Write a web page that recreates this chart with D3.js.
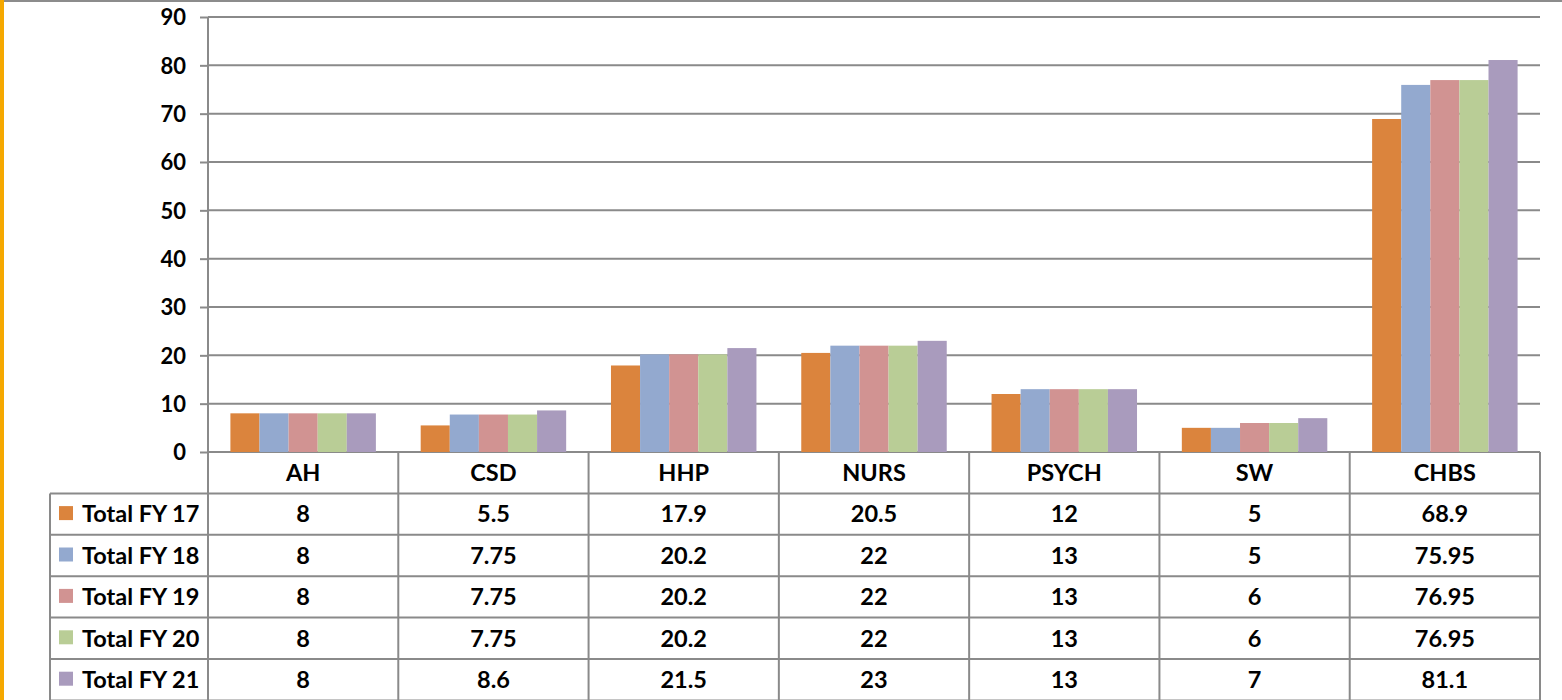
<!DOCTYPE html>
<html>
<head>
<meta charset="utf-8">
<script src="https://cdn.jsdelivr.net/npm/d3@7"></script>
<style>
  body { margin: 0; background: #fff; }
  text { font-family: Lato, "Open Sans", sans-serif; font-weight: bold; fill: #000; }
</style>
</head>
<body>
<div id="chart"></div>
<script>
const width = 1562;
const height = 700;

const categories = ["AH", "CSD", "HHP", "NURS", "PSYCH", "SW", "CHBS"];
const seriesNames = ["Total FY 17", "Total FY 18", "Total FY 19", "Total FY 20", "Total FY 21"];
const fy17 = [8, 5.5, 17.9, 20.5, 12, 5, 68.9];
const fy18 = [8, 7.75, 20.2, 22, 13, 5, 75.95];
const fy19 = [8, 7.75, 20.2, 22, 13, 6, 76.95];
const fy20 = [8, 7.75, 20.2, 22, 13, 6, 76.95];
const fy21 = [8, 8.6, 21.5, 23, 13, 7, 81.1];
const colors = ["#DB843D", "#93A9CF", "#D19392", "#B9CD96", "#A99BBD"];
const yTicks = [0, 10, 20, 30, 40, 50, 60, 70, 80, 90];

const series = [fy17, fy18, fy19, fy20, fy21];

const plotLeft = 208;
const plotRight = 1540;
const plotTop = 17;
const plotBottom = 452;
const rowH = 41.4;
const tableLeft = 50;
const gridColor = "#8a8a8a";
const tableFont = "23.5px";

const x = d3.scaleBand()
    .domain(categories)
    .range([plotLeft, plotRight])
    .paddingInner(0)
    .paddingOuter(0);
const xInner = d3.scaleBand()
    .domain(d3.range(series.length))
    .range([0, x.bandwidth()])
    .paddingOuter(0.77)
    .paddingInner(0);
const y = d3.scaleLinear()
    .domain([0, 90])
    .range([plotBottom, plotTop]);

const svg = d3.select("#chart")
    .append("svg")
        .attr("width", width)
        .attr("height", height);

// frame
svg.append("line")
    .attr("x1", 0).attr("x2", width).attr("y1", 1).attr("y2", 1)
    .attr("stroke", "#8c8c8c").attr("stroke-width", 2);
svg.append("line")
    .attr("x1", 2).attr("x2", 2).attr("y1", 0).attr("y2", height)
    .attr("stroke", "#F5A800").attr("stroke-width", 4);

// y axis with gridlines
const yAxis = svg.append("g")
    .attr("transform", `translate(${plotLeft},0)`)
    .call(d3.axisLeft(y).tickValues(yTicks).tickSize(8).tickPadding(14));
yAxis.select(".domain").remove();
yAxis.selectAll("line").attr("stroke", gridColor).attr("stroke-width", 2);
yAxis.selectAll("text").style("font-size", "22px").attr("dy", "0.35em");

svg.append("g")
    .selectAll("line")
    .data(yTicks)
    .join("line")
        .attr("x1", plotLeft).attr("x2", plotRight)
        .attr("y1", d => y(d)).attr("y2", d => y(d))
        .attr("stroke", gridColor).attr("stroke-width", 2);

// bars
svg.append("g")
    .selectAll("g")
    .data(series)
    .join("g")
        .attr("fill", (d, i) => colors[i])
    .selectAll("rect")
    .data((d, i) => d.map((v, j) => ({ cat: categories[j], s: i, v })))
    .join("rect")
        .attr("x", d => x(d.cat) + xInner(d.s))
        .attr("y", d => y(d.v))
        .attr("width", xInner.bandwidth())
        .attr("height", d => y(0) - y(d.v));

// axis line on top of bars
svg.append("line")
    .attr("x1", plotLeft).attr("x2", plotLeft).attr("y1", plotTop).attr("y2", height)
    .attr("stroke", gridColor).attr("stroke-width", 2);

// data table
const tableBottom = plotBottom + rowH * (series.length + 1);
const table = svg.append("g");

// vertical column lines
table.selectAll(".col")
    .data(categories.slice(1).map(c => x(c)).concat([plotRight]))
    .join("line")
        .attr("x1", d => d).attr("x2", d => d)
        .attr("y1", plotBottom).attr("y2", tableBottom)
        .attr("stroke", gridColor).attr("stroke-width", 2);
table.append("line")
    .attr("x1", tableLeft).attr("x2", tableLeft)
    .attr("y1", plotBottom + rowH).attr("y2", tableBottom)
    .attr("stroke", gridColor).attr("stroke-width", 2);

// horizontal row lines
table.selectAll(".row")
    .data(d3.range(1, series.length + 2))
    .join("line")
        .attr("x1", tableLeft).attr("x2", plotRight)
        .attr("y1", i => plotBottom + rowH * i).attr("y2", i => plotBottom + rowH * i)
        .attr("stroke", gridColor).attr("stroke-width", 2);

// header
table.selectAll(".cat")
    .data(categories)
    .join("text")
        .attr("x", d => x(d) + x.bandwidth() / 2)
        .attr("y", plotBottom + rowH / 2)
        .attr("dy", "0.35em")
        .attr("text-anchor", "middle")
        .style("font-size", tableFont)
        .text(d => d);

// rows
series.forEach((vals, i) => {
    const cy = plotBottom + rowH * (i + 1.5);
    table.append("rect")
        .attr("x", 59).attr("y", cy - 8)
        .attr("width", 14).attr("height", 14)
        .attr("fill", colors[i]);
    table.append("text")
        .attr("x", 82).attr("y", cy)
        .attr("dy", "0.35em")
        .style("font-size", tableFont)
        .text(seriesNames[i]);
    table.selectAll(null)
        .data(vals)
        .join("text")
            .attr("x", (d, j) => x(categories[j]) + x.bandwidth() / 2)
            .attr("y", cy)
            .attr("dy", "0.35em")
            .attr("text-anchor", "middle")
            .style("font-size", tableFont)
            .text(d => d);
});
</script>
</body>
</html>
